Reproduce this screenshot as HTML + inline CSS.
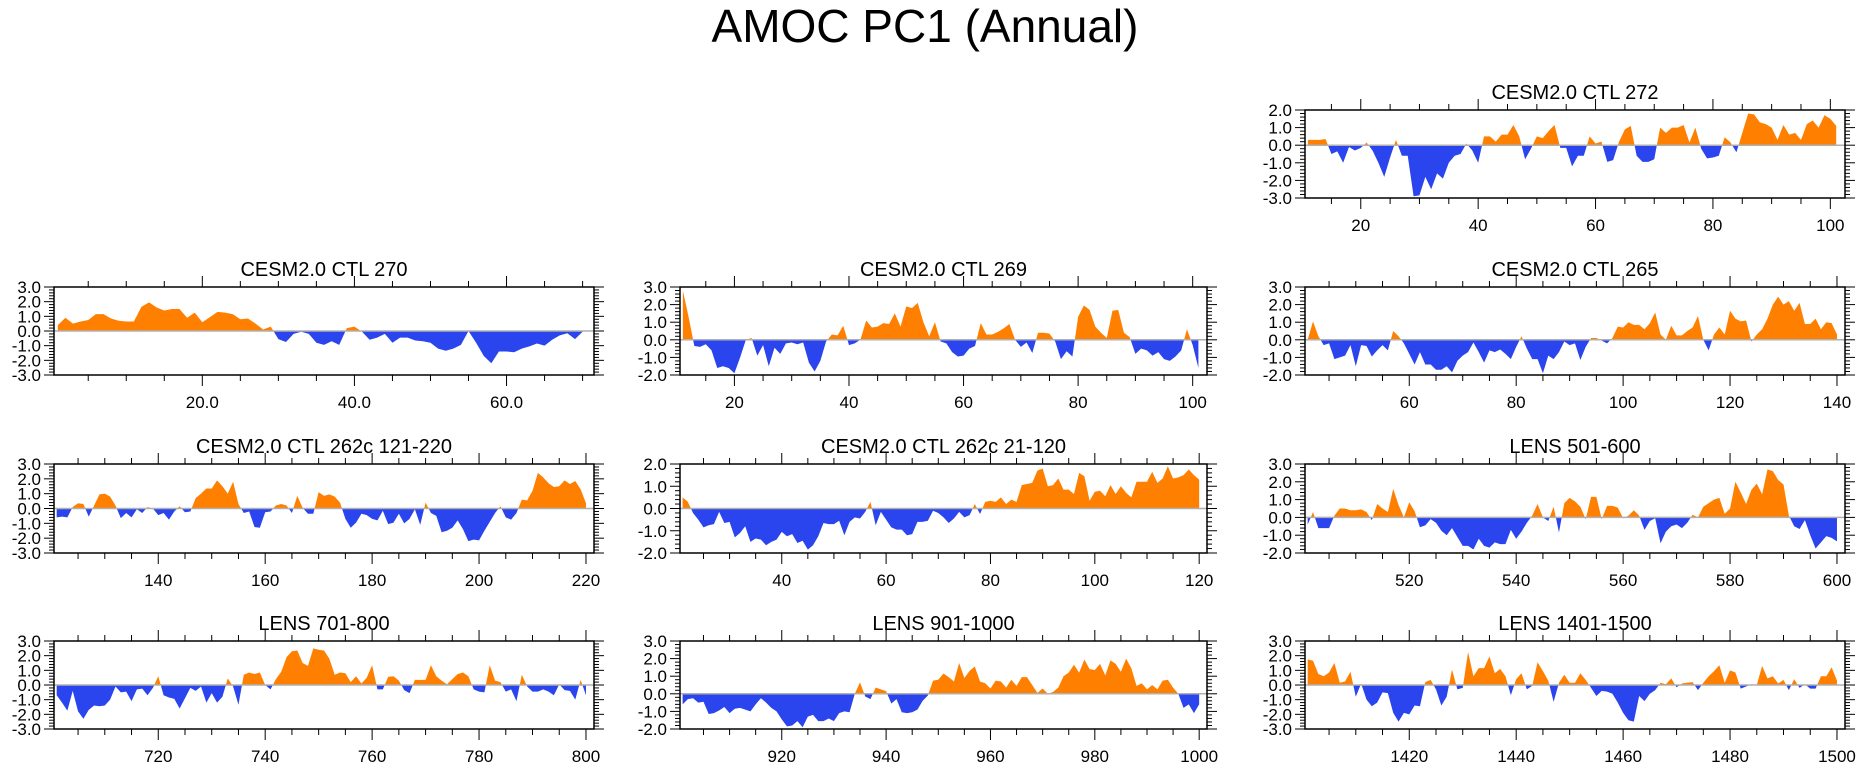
<!DOCTYPE html>
<html><head><meta charset="utf-8"><style>
html,body{margin:0;padding:0;background:#fff;}
svg{display:block;font-family:"Liberation Sans",sans-serif;}
</style></head><body>
<svg id="chart" width="1861" height="771" viewBox="0 0 1861 771" xmlns="http://www.w3.org/2000/svg">
<rect x="0" y="0" width="1861" height="771" fill="#fff"/>
<text x="925" y="42" font-size="46" text-anchor="middle" fill="#000">AMOC PC1 (Annual)</text>
</svg>
<script>
const titles = ["CESM2.0 CTL 272","CESM2.0 CTL 270","CESM2.0 CTL 269","CESM2.0 CTL 265","CESM2.0 CTL 262c 121-220","CESM2.0 CTL 262c 21-120","LENS 501-600","LENS 701-800","LENS 901-1000","LENS 1401-1500"];
const startYears = [11,1,11,41,121,21,501,701,901,1401];
const yMins = [-3,-3,-2,-2,-3,-2,-2,-3,-2,-3];
const yMaxs = [2,3,3,3,3,2,3,3,3,3];
const xLabelDecimals = [0,1,0,0,0,0,0,0,0,0];
const s272 = [0.3,0.3,0.3,0.35,-0.5,-0.35,-1.0,-0.1,-0.3,-0.15,0.15,-0.3,-1.0,-1.8,-0.7,0.3,-0.6,-0.6,-2.9,-2.85,-1.8,-2.5,-1.6,-1.9,-1.0,-0.6,-0.5,0.1,-0.3,-1.0,0.5,0.5,0.2,0.6,0.6,1.15,0.5,-0.8,-0.2,0.5,0.4,0.8,1.15,-0.15,-0.15,-1.2,-0.6,-0.6,0.5,0.1,0.2,-0.95,-0.85,0.2,0.9,1.1,-0.6,-0.95,-0.95,-0.8,1.0,0.7,1.0,1.0,1.15,0.15,1.0,-0.2,-0.75,-0.7,-0.6,0.45,0.15,-0.4,0.7,1.8,1.75,1.3,1.2,1.0,0.3,1.15,0.6,0.7,0.3,1.2,1.4,1.0,1.7,1.5,1.1];
const s270 = [0.4,0.9,0.5,0.65,0.75,1.15,1.15,0.85,0.7,0.65,0.65,1.65,1.95,1.6,1.4,1.5,1.5,0.9,1.25,0.6,0.95,1.3,1.25,1.15,0.8,0.85,0.5,0.1,0.3,-0.55,-0.75,-0.2,-0.05,-0.2,-0.8,-0.95,-0.7,-0.95,0.2,0.3,-0.05,-0.6,-0.45,-0.2,-0.8,-0.45,-0.45,-0.65,-0.7,-0.8,-1.2,-1.35,-1.2,-0.95,0.0,-0.8,-1.7,-2.2,-1.4,-1.4,-1.45,-1.2,-1.05,-0.85,-1.0,-0.6,-0.3,-0.15,-0.55,-0.05];
const s269 = [2.8,1.3,-0.35,-0.4,-0.25,-0.6,-1.6,-1.5,-1.6,-1.9,-1.0,0.0,0.1,-0.9,-0.3,-1.5,-0.45,-0.8,-0.2,-0.15,-0.25,-0.15,-1.3,-1.8,-1.2,-0.1,0.3,0.25,0.8,-0.3,-0.2,0.0,1.1,0.7,0.75,0.95,0.9,1.5,0.75,1.9,1.8,2.1,1.0,0.2,1.0,-0.1,-0.2,-0.7,-0.95,-0.9,-0.5,-0.35,0.95,0.3,0.3,0.45,0.65,0.9,0.0,-0.4,-0.15,-0.75,0.4,0.4,0.35,-0.1,-1.1,-0.65,-0.95,1.3,1.95,1.7,0.75,0.4,0.1,1.65,1.7,0.4,0.15,-0.8,-0.5,-0.6,-0.9,-0.7,-1.1,-1.2,-0.95,-0.6,0.6,-0.3,-1.6];
const s265 = [0.0,1.05,0.2,-0.3,-0.2,-1.1,-1.0,-0.9,-0.3,-1.5,-0.3,-0.35,-0.95,-0.6,-0.3,-0.6,0.5,0.2,-0.2,-0.8,-1.4,-0.7,-1.4,-1.4,-1.7,-1.7,-1.5,-1.85,-1.2,-0.9,-0.7,-0.15,-0.7,-1.3,-0.6,-0.7,-0.55,-0.8,-1.1,-0.4,0.2,-0.5,-1.1,-1.1,-1.9,-0.9,-1.1,-0.7,-0.1,-0.3,-0.2,-1.15,-0.4,0.1,0.1,-0.05,-0.2,0.1,0.75,0.7,1.0,0.85,0.85,0.6,0.95,1.55,0.3,0.0,0.8,0.25,0.25,0.5,0.7,1.35,0.0,-0.6,0.3,0.7,0.3,1.65,1.2,1.05,1.1,-0.1,0.3,0.6,1.2,2.0,2.45,2.0,2.2,1.65,2.1,0.9,0.9,1.2,0.6,1.0,0.95,0.3];
const s262a = [-0.6,-0.55,-0.6,0.1,0.35,0.3,-0.55,0.2,0.95,1.0,0.8,0.2,-0.65,-0.3,-0.6,-0.05,-0.3,0.1,0.0,-0.45,-0.3,-0.75,-0.2,0.15,-0.25,-0.2,0.7,1.0,1.35,1.35,1.9,1.5,1.0,1.8,0.3,-0.3,-0.2,-1.25,-1.3,-0.25,-0.2,0.2,0.3,0.2,-0.3,0.85,0.05,-0.35,-0.35,1.1,0.85,0.95,0.8,0.4,-0.7,-1.3,-0.95,-0.35,-0.45,-0.7,-0.8,-0.15,-1.05,-0.95,-0.35,-1.0,-0.7,-0.05,-1.1,0.4,-0.3,-0.5,-1.6,-1.5,-1.3,-0.8,-1.4,-2.2,-2.1,-2.15,-1.5,-0.9,-0.3,0.15,-0.6,-0.75,-0.3,0.6,0.55,1.2,2.4,2.1,1.7,1.45,1.5,1.9,1.65,1.85,1.3,0.35];
const s262b = [0.5,0.3,-0.2,-0.5,-0.85,-0.75,-0.7,-0.15,-0.65,-0.6,-1.3,-1.1,-0.8,-1.5,-1.35,-1.4,-1.65,-1.5,-1.4,-1.05,-1.25,-1.15,-1.55,-1.45,-1.85,-1.65,-1.25,-0.65,-0.7,-0.7,-0.55,-1.2,-0.6,-0.4,-0.45,-0.15,0.3,-0.75,-0.15,-0.5,-0.85,-0.95,-0.95,-1.2,-1.15,-0.6,-0.6,-0.55,-0.1,-0.2,-0.4,-0.65,-0.45,-0.15,-0.4,-0.3,0.2,-0.25,0.3,0.35,0.3,0.5,0.2,0.4,0.3,1.05,1.1,1.15,1.7,1.8,1.0,1.05,1.35,0.85,0.85,0.65,1.6,1.45,0.35,0.75,0.8,0.55,1.05,0.65,1.0,0.7,0.5,1.2,1.2,1.2,1.65,1.15,1.35,1.9,1.35,1.4,1.5,1.75,1.5,1.3];
const s501 = [-0.4,0.3,-0.6,-0.6,-0.6,0.1,0.5,0.5,0.4,0.4,0.45,0.3,-0.15,0.75,0.5,0.3,1.6,0.7,0.0,0.85,0.35,-0.55,-0.45,-0.1,-0.3,-0.75,-1.0,-0.6,-1.1,-1.6,-1.6,-1.8,-1.2,-1.6,-1.7,-1.4,-1.5,-1.5,-0.7,-1.2,-0.8,-0.3,0.1,0.75,0.0,-0.2,0.6,-0.85,0.8,1.1,0.9,0.6,-0.1,1.15,1.15,-0.1,0.65,0.65,0.55,-0.05,0.1,0.4,0.1,-0.7,-0.2,-0.05,-1.45,-0.8,-0.5,-0.4,-0.6,-0.3,0.15,0.0,0.6,0.8,1.0,1.1,0.2,0.5,2.0,1.4,0.75,1.55,1.9,1.3,2.7,2.6,2.1,1.85,0.1,-0.5,-0.65,-0.15,-1.0,-1.75,-1.4,-1.05,-1.15,-1.35];
const s701 = [-0.7,-1.2,-1.75,-0.4,-1.8,-2.3,-1.7,-1.4,-1.45,-1.4,-1.0,-0.1,-0.5,-0.45,-1.1,-0.3,-0.25,-0.7,-0.2,0.6,-0.7,-0.85,-0.95,-1.6,-0.9,-0.2,-0.4,-0.1,-1.2,-0.55,-1.2,-0.8,0.45,-0.1,-1.35,0.7,0.85,0.75,0.85,0.0,-0.3,0.4,0.9,1.9,2.3,2.35,1.5,1.3,2.5,2.4,2.35,1.8,0.7,0.85,0.8,0.2,0.6,0.1,0.5,1.35,-0.3,-0.3,0.55,0.6,0.3,-0.35,-0.55,0.35,0.35,0.35,1.35,0.6,0.3,0.05,0.4,0.75,0.85,0.6,-0.3,-0.45,-0.5,1.35,0.3,0.2,-0.45,-0.3,-1.1,0.7,-0.1,-0.45,-0.45,-0.3,-0.45,-0.7,0.05,-0.35,-0.4,-1.0,0.35,-0.7];
const s901 = [-0.6,-0.3,-0.25,-0.5,-0.45,-1.15,-1.1,-0.95,-0.75,-1.1,-0.85,-0.8,-0.9,-1.0,-0.6,-0.25,-0.5,-0.8,-1.0,-1.45,-1.85,-1.8,-1.55,-1.9,-1.3,-1.2,-1.55,-1.55,-1.4,-1.55,-1.1,-1.0,-1.05,0.0,0.65,-0.15,-0.3,0.35,0.25,0.15,-0.55,-0.3,-1.05,-1.1,-1.05,-0.9,-0.4,-0.1,0.75,0.8,1.15,0.95,0.7,1.75,0.9,1.3,1.55,0.7,0.6,0.3,0.75,0.7,0.35,0.8,0.45,0.95,0.95,0.5,0.05,0.3,0.0,0.1,0.35,1.0,1.2,1.65,1.2,1.95,1.4,1.35,1.7,1.05,1.9,1.7,1.25,2.0,1.45,0.45,0.6,0.25,0.5,0.25,0.75,0.8,0.35,0.0,-0.8,-0.6,-1.1,-0.6];
const s1401 = [1.75,1.65,0.75,0.6,0.85,1.5,0.15,0.25,0.9,-0.8,0.1,-1.0,-1.45,-1.2,-0.5,-0.55,-1.9,-2.5,-1.9,-2.0,-1.4,-1.45,0.2,0.35,-0.3,-1.4,-0.8,1.05,-0.3,-0.2,2.25,0.6,1.15,1.15,1.95,0.8,1.1,0.6,-0.7,0.4,0.8,-0.3,-0.05,1.55,0.95,0.3,-1.15,0.15,0.7,0.15,0.15,0.8,0.35,-0.2,-0.75,-0.4,-0.45,-0.6,-1.2,-1.9,-2.4,-2.5,-0.75,-1.1,-0.6,-0.35,0.15,0.05,0.45,-0.15,0.1,0.15,0.2,-0.35,0.15,0.6,0.95,1.35,0.15,1.0,0.85,-0.25,-0.1,0.05,0.0,1.3,0.45,0.6,0.1,0.35,-0.35,0.4,-0.2,0.05,-0.25,-0.25,0.6,0.6,1.2,0.3];
const seriesList = [s272,s270,s269,s265,s262a,s262b,s501,s701,s901,s1401];
const panelNames = ["ctl-272","ctl-270","ctl-269","ctl-265","ctl-262c-121-220","ctl-262c-21-120","lens-501-600","lens-701-800","lens-901-1000","lens-1401-1500"];

// layout (not data)
const colX = [[54,594],[680,1207],[1305,1845]];
const rowY = [[110,198],[287,375],[464,553],[641,729]];
const layout = [[0,2],[1,0],[1,1],[1,2],[2,0],[2,1],[2,2],[3,0],[3,1],[3,2]];

const NS = "http://www.w3.org/2000/svg";
const svg = document.getElementById('chart');
function mk(tag, attrs, parent){
  const e = document.createElementNS(NS, tag);
  for (const k in attrs) e.setAttribute(k, attrs[k]);
  (parent||svg).appendChild(e);
  return e;
}

for (let p=0; p<10; p++){
  const vals = seriesList[p];
  const x0 = startYears[p], x1 = startYears[p] + vals.length - 1;
  const xmin = x0 - 0.5, xmax = x1 + 1.5;
  const ymin = yMins[p], ymax = yMaxs[p];
  const [L,R] = colX[layout[p][1]];
  const [T,B] = rowY[layout[p][0]];
  const sx = v => L + (v - xmin) / (xmax - xmin) * (R - L);
  const sy = v => B - (v - ymin) / (ymax - ymin) * (B - T);

  const g = mk('g', {});
  
  

  const title = mk('text', {x:(L+R)/2, y:T-11, 'font-size':20, 'text-anchor':'middle', fill:'#000'}, g);
  title.textContent = titles[p];
  
  

  const y0 = sy(0);
  const defs = mk('defs', {}, g);
  const cpA = mk('clipPath', {id:'ca'+p}, defs);
  mk('rect', {x:L, y:T, width:R-L, height:y0-T}, cpA);
  const cpB = mk('clipPath', {id:'cb'+p}, defs);
  mk('rect', {x:L, y:y0, width:R-L, height:B-y0}, cpB);

  let d = 'M' + sx(x0) + ',' + y0;
  for (let i=0;i<vals.length;i++) d += ' L' + sx(x0+i).toFixed(2) + ',' + sy(vals[i]).toFixed(2);
  d += ' L' + sx(x1) + ',' + y0 + ' Z';
  const pos = mk('path', {d:d, fill:'#ff8000', 'clip-path':'url(#ca'+p+')'}, g);
  
  
  const neg = mk('path', {d:d, fill:'#2a44ee', 'clip-path':'url(#cb'+p+')'}, g);
  
  

  const zl = mk('line', {x1:L, x2:R, y1:y0, y2:y0, stroke:'#b0b0b0', 'stroke-width':1.5}, g);
  
  

  const frame = mk('rect', {x:L, y:T, width:R-L, height:B-T, fill:'none', stroke:'#000', 'stroke-width':1.5}, g);
  
  

  for (let k=Math.round(ymin*5); k<=Math.round(ymax*5); k++){
    const v = k/5, yy = sy(v), major = (k%5===0);
    const len = major ? 10 : 5;
    mk('line', {x1:L-len, x2:L, y1:yy, y2:yy, stroke:'#000', 'stroke-width':1}, g);
    mk('line', {x1:R, x2:R+len, y1:yy, y2:yy, stroke:'#000', 'stroke-width':1}, g);
    if (major){
      const t = mk('text', {x:L-13, y:yy+6, 'font-size':17, 'text-anchor':'end', fill:'#000'}, g);
      t.textContent = v.toFixed(1);
      
      
    }
  }
  for (let v=Math.ceil(xmin/5)*5; v<=xmax; v+=5){
    const xx = sx(v), major = (v%20===0);
    const len = major ? 11 : 6;
    mk('line', {x1:xx, x2:xx, y1:T-len, y2:T, stroke:'#000', 'stroke-width':1}, g);
    mk('line', {x1:xx, x2:xx, y1:B, y2:B+len, stroke:'#000', 'stroke-width':1}, g);
    if (major){
      const t = mk('text', {x:xx, y:B+33, 'font-size':17, 'text-anchor':'middle', fill:'#000'}, g);
      t.textContent = v.toFixed(xLabelDecimals[p]);
      
      
    }
  }
}
</script>
</body></html>
